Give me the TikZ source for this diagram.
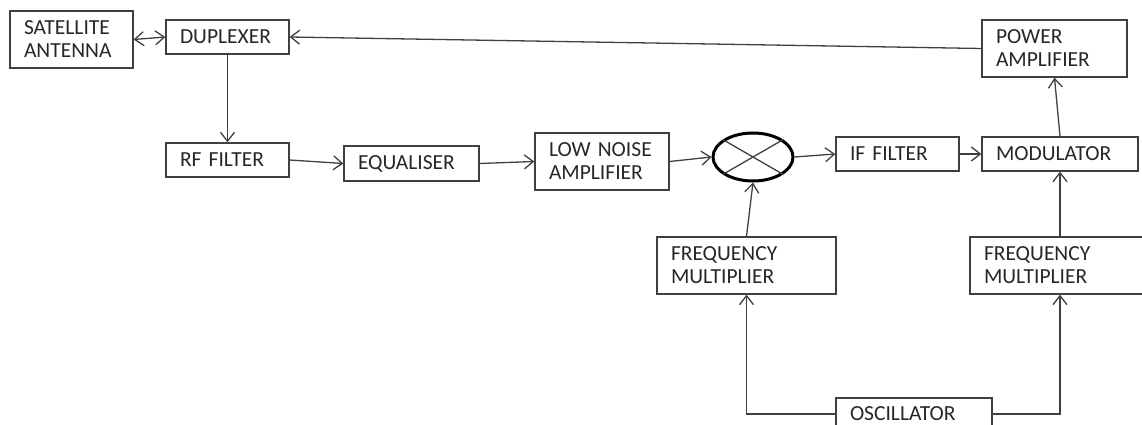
\documentclass[tikz,border=0pt]{standalone}
\usepackage{fontspec}
\setmainfont{Carlito}
\usetikzlibrary{arrows.meta,shapes.geometric}
\begin{document}
\begin{tikzpicture}[x=1pt,y=-1pt,line width=1.3pt,draw=black!75,
	blk/.style={rectangle,draw=black!75,align=left,inner xsep=14pt,inner ysep=2pt,text=black!85,font=\fontsize{21.5}{23}\selectfont},
	arr/.style={-{Straight Barb[length=9pt,width=14pt]}}]
	\useasboundingbox (0,0) rectangle (1142,425);
	% upper row
	\node[blk,text width=95pt,minimum height=57pt](ant) at (71.5,39.5) {SATELLITE\\ANTENNA};
	\node[blk,text width=95pt,minimum height=34pt](dup) at (227.5,37) {DUPLEXER};
	\node[blk,text width=117pt,minimum height=57pt](pa) at (1054.5,48.5) {POWER\\AMPLIFIER};
	% receive chain
	\node[blk,text width=95pt,minimum height=34pt](rf) at (227.5,160) {RF FILTER};
	\node[blk,text width=107pt,minimum height=35pt](eq) at (411.5,163.5) {EQUALISER};
	\node[blk,text width=106pt,minimum height=57pt](lna) at (602,161.5) {LOW NOISE\\AMPLIFIER};
	\node[ellipse,draw=black,line width=3pt,minimum width=80pt,minimum height=48pt,inner sep=0pt](mix) at (753,157) {};
	\node[blk,text width=95pt,minimum height=34pt](if) at (897.5,154) {IF FILTER};
	\node[blk,text width=128pt,minimum height=34pt](mod) at (1060,154) {MODULATOR};
	% local oscillator
	\node[blk,text width=151pt,minimum height=57pt](fmA) at (746.5,265.5) {FREQUENCY\\MULTIPLIER};
	\node[blk,text width=152pt,minimum height=57pt](fmB) at (1060,265.5) {FREQUENCY\\MULTIPLIER};
	\node[blk,text width=128pt,minimum height=32pt](osc) at (914,414) {OSCILLATOR};
	% mixer cross
	\draw (mix.150) -- (mix.-30);
	\draw (mix.30) -- (mix.210);
	% connectors
	\draw[{Straight Barb[length=9pt,width=14pt]}-{Straight Barb[length=9pt,width=14pt]}] (ant.east) -- (dup.west);
	\draw[arr] (dup.south) -- (rf.north);
	\draw[arr] (rf.east) -- (eq.west);
	\draw[arr] (eq.east) -- (lna.west);
	\draw[arr] (lna.east) -- (mix.west);
	\draw[arr] (mix.east) -- (if.west);
	\draw[arr] (if.east) -- (mod.west);
	\draw[arr] (mod.north) -- (pa.south);
	\draw[arr] (pa.west) -- (dup.east);
	\draw[arr] (fmA.north) -- (mix.south);
	\draw[arr] (fmB.north) -- (mod.south);
	\draw[arr] (osc.west) -| (fmA.south);
	\draw[arr] (osc.east) -| (fmB.south);
\end{tikzpicture}
\end{document}
